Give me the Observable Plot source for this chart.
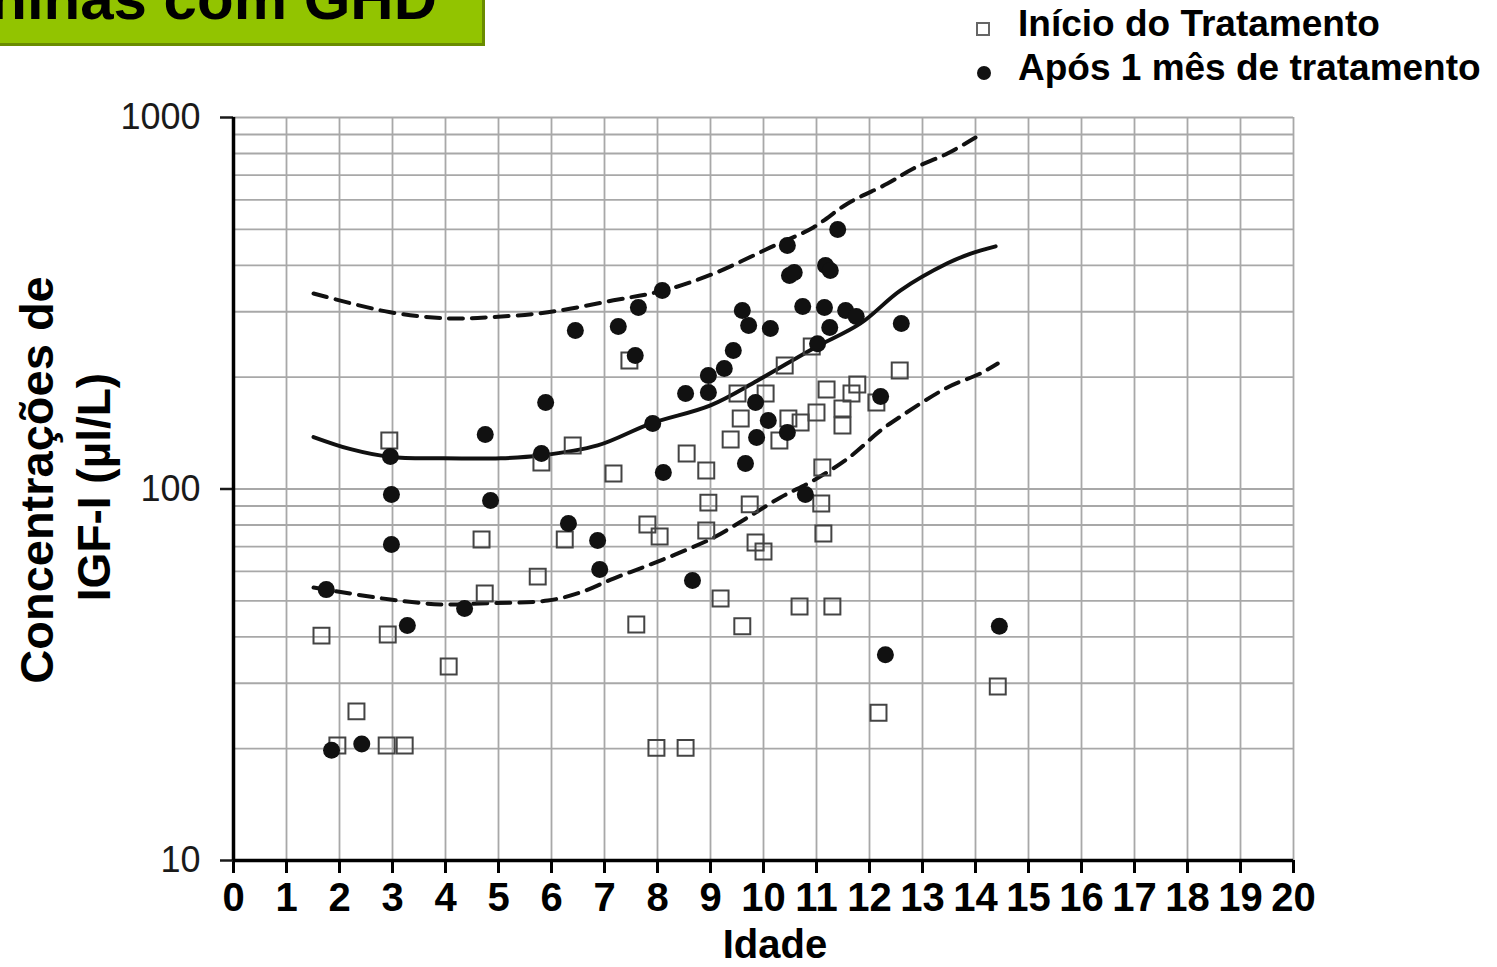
<!DOCTYPE html>
<html>
<head>
<meta charset="utf-8">
<script src="https://cdn.jsdelivr.net/npm/d3@7"></script>
<script src="https://cdn.jsdelivr.net/npm/@observablehq/plot@0.6"></script>
<style>
  body { margin: 0; background: #fff; font-family: "Liberation Sans", Arial, sans-serif; }
  #wrap { position: relative; width: 1497px; height: 967px; overflow: hidden; background: #fff; }
  #chart, #overlay { position: absolute; left: 0; top: 0; }
  #overlay { pointer-events: none; }
</style>
</head>
<body>
<div id="wrap">
  <div id="chart"></div>
  <svg id="overlay" width="1497" height="967" font-family="Liberation Sans, Arial, sans-serif">
    <!-- title banner -->
    <rect x="-4" y="-4" width="488" height="49" fill="#92c400"/>
    <line x1="0" y1="44.5" x2="485" y2="44.5" stroke="#6a8c00" stroke-width="3"/>
    <line x1="483.5" y1="0" x2="483.5" y2="46" stroke="#6a8c00" stroke-width="3"/>
    <text x="437" y="19" text-anchor="end" font-size="60" font-weight="bold" fill="#000">Meninas com GHD</text>
    <!-- legend -->
    <rect x="977" y="23" width="12" height="12" fill="none" stroke="#666" stroke-width="2"/>
    <circle cx="984" cy="73" r="7" fill="#111"/>
    <text x="1018" y="36" font-size="37" font-weight="bold" fill="#000">Início do Tratamento</text>
    <text x="1018" y="80" font-size="37" font-weight="bold" fill="#000">Após 1 mês de tratamento</text>
    <!-- axis titles -->
    <text transform="translate(53,480) rotate(-90)" text-anchor="middle" font-size="47" font-weight="bold" fill="#000">Concentrações de</text>
    <text transform="translate(110,487) rotate(-90)" text-anchor="middle" font-size="46" font-weight="bold" fill="#000">IGF-I (µl/L)</text>
    <text x="775" y="958" text-anchor="middle" font-size="40" font-weight="bold" fill="#000">Idade</text>
  </svg>
</div>
<script>
// Reference curves for IGF-I by age (median and upper/lower limits)
const medianAge = [1.51, 2.21, 2.96, 3.91, 5.04, 5.79, 6.87, 7.87, 9.0, 9.89, 10.94, 11.83, 12.58, 13.47, 13.91, 14.38];
const medianIGF = [138, 128, 122, 121, 121, 123, 131, 150, 168, 196, 239, 279, 342, 405, 430, 450];

const upperAge = [1.51, 2.96, 4.04, 4.85, 5.93, 7.17, 8.11, 9.06, 10.13, 10.94, 11.59, 12.34, 12.83, 13.47, 14.0];
const upperIGF = [336, 299, 288, 290, 299, 322, 342, 380, 447, 506, 587, 664, 729, 800, 883];

const lowerAge = [1.51, 2.96, 3.91, 4.66, 5.93, 6.55, 7.17, 7.81, 8.43, 9.06, 9.70, 10.32, 10.94, 11.59, 12.21, 12.53, 13.47, 14.09, 14.42];
const lowerIGF = [54.3, 50.4, 48.9, 49.2, 50.1, 52.7, 57.4, 62.2, 67.5, 74.0, 83.8, 94.9, 105.4, 120.8, 143.7, 154.8, 187.6, 204.6, 217.7];

// Patients at start of treatment
const startAge = [1.66, 1.96, 2.32, 2.89, 3.23, 2.91, 2.94, 4.06, 4.68, 4.74, 5.74, 5.81, 6.25, 6.40, 7.17, 7.47, 7.60, 7.81, 8.04, 7.98,
  8.53, 8.55, 8.92, 8.96, 8.92, 9.19, 9.38, 9.57, 9.51, 9.74, 9.85, 10.0, 9.60, 10.04, 10.30, 10.40, 10.47, 10.70, 11.0, 11.11,
  11.09, 11.13, 11.19, 11.30, 11.49, 11.49, 11.66, 11.77, 12.13, 12.17, 12.57, 14.42, 10.91, 10.68];
const startIGF = [40.3, 20.4, 25.2, 20.4, 20.4, 40.6, 135, 33.3, 73.1, 52.3, 58.1, 117.8, 73.1, 130.9, 110.1, 221.8, 43.2, 80.2, 74.5, 20.1,
  20.1, 124.6, 112.1, 91.9, 77.3, 50.7, 135.9, 154.8, 180.7, 90.9, 71.8, 67.9, 42.7, 180.7, 135, 215, 154.8, 151, 160.7, 114.3,
  91.4, 75.9, 185.2, 48.3, 164.7, 148.2, 180.7, 191.2, 171, 25.0, 208.4, 29.4, 242, 48.3];

// Same patients after one month of treatment
const afterAge = [1.75, 1.85, 2.42, 2.96, 2.98, 2.98, 3.28, 4.36, 4.75, 4.85, 5.89, 5.81, 6.32, 6.45, 6.87, 6.91, 7.26, 7.58, 7.64, 7.91,
  8.09, 8.11, 8.53, 8.66, 8.96, 8.96, 9.26, 9.43, 9.60, 9.72, 9.85, 9.66, 9.87, 10.13, 10.09, 10.45, 10.49, 10.58, 10.45, 10.74,
  10.79, 11.15, 11.25, 11.17, 11.26, 11.40, 11.55, 11.75, 12.21, 12.30, 12.60, 14.45, 11.02];
const afterIGF = [53.6, 19.8, 20.6, 122.4, 96.6, 70.9, 42.9, 47.7, 140.2, 93.1, 171, 124.6, 80.7, 267, 72.7, 60.7, 273.8, 228.7, 307.9, 150.1,
  342, 110.8, 180.7, 56.7, 202, 181.8, 211, 236, 302.2, 275.5, 171, 117.1, 137.6, 270.4, 152.9, 142, 375.6, 382.6, 452.3, 309.9,
  96.6, 307.9, 272.1, 399.6, 387.4, 499.5, 302.2, 291.3, 177.4, 35.8, 279, 42.7, 246];

const ageTicks = d3.range(0, 21);
const igfTicks = [10, 100, 1000];
const igfGrid = [20, 30, 40, 50, 60, 70, 80, 90, 100, 200, 300, 400, 500, 600, 700, 800, 900, 1000];

const zip = (xs, ys) => xs.map((x, i) => ({age: x, igf: ys[i]}));
const median = zip(medianAge, medianIGF);
const upper = zip(upperAge, upperIGF);
const lower = zip(lowerAge, lowerIGF);
const start = zip(startAge, startIGF);
const after = zip(afterAge, afterIGF);

const chart = Plot.plot({
  width: 1497,
  height: 967,
  marginLeft: 233,
  marginRight: 204,
  marginTop: 117,
  marginBottom: 107,
  style: {fontFamily: "Liberation Sans, Arial, sans-serif", background: "transparent", overflow: "visible"},
  x: {domain: [0, 20]},
  y: {type: "log", domain: [10, 1000]},
  marks: [
    Plot.gridX(ageTicks.slice(1), {stroke: "#a8a8a8", strokeOpacity: 1, strokeWidth: 1.8}),
    Plot.gridY(igfGrid, {stroke: "#a8a8a8", strokeOpacity: 1, strokeWidth: 1.8}),
    Plot.line(upper, {x: "age", y: "igf", stroke: "#111", strokeWidth: 4, strokeDasharray: "14,9", curve: "catmull-rom"}),
    Plot.line(lower, {x: "age", y: "igf", stroke: "#111", strokeWidth: 4, strokeDasharray: "14,9", curve: "catmull-rom"}),
    Plot.line(median, {x: "age", y: "igf", stroke: "#111", strokeWidth: 4, curve: "catmull-rom"}),
    Plot.dot(start, {x: "age", y: "igf", symbol: "square", r: 9, stroke: "#444", strokeWidth: 2, fill: "none"}),
    Plot.dot(after, {x: "age", y: "igf", r: 8.5, fill: "#111", stroke: "none"}),
    Plot.axisX({ticks: ageTicks, tickFormat: d => String(d), tickSize: 13, tickPadding: 9, fontSize: 40, fontWeight: "bold",
      color: "#000", strokeWidth: 3, label: null}),
    Plot.axisY({ticks: igfTicks, tickFormat: d => String(d), tickSize: 13, tickPadding: 20, fontSize: 36,
      color: "#1a1a1a", strokeWidth: 2.5, label: null}),
    Plot.ruleX([0], {y1: 10, y2: 1000, stroke: "#000", strokeWidth: 3.5}),
    Plot.ruleY([10], {x1: 0, x2: 20, stroke: "#000", strokeWidth: 3.5})
  ]
});
document.getElementById("chart").appendChild(chart);
</script>
</body>
</html>
